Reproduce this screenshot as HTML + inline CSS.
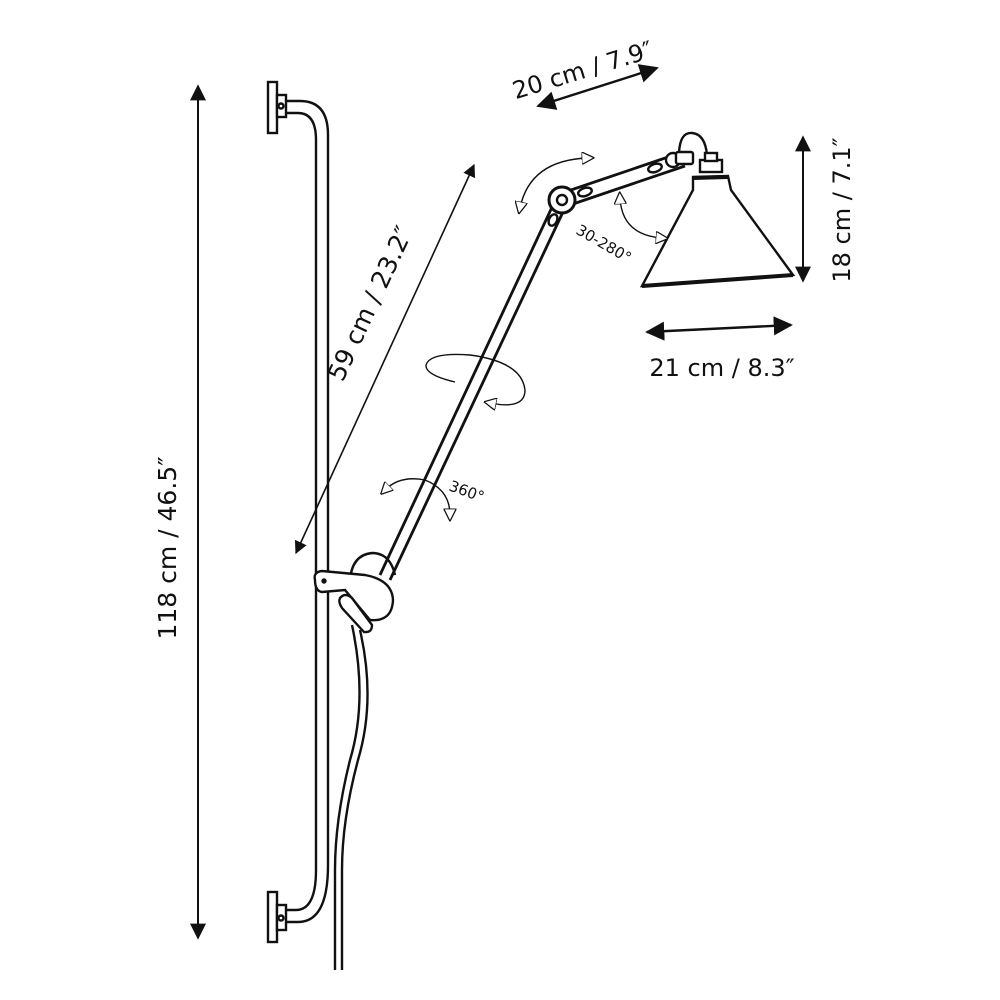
<!DOCTYPE html>
<html><head><meta charset="utf-8"><style>
html,body{margin:0;padding:0;background:#fff;}
svg{display:block;}
text{font-family:"DejaVu Sans","Liberation Sans",sans-serif;fill:#111;}
</style></head><body>
<svg width="1000" height="1000" viewBox="0 0 1000 1000" xmlns="http://www.w3.org/2000/svg">
<defs>
<marker id="a" viewBox="0 0 10 10" refX="9" refY="5" markerWidth="8" markerHeight="8" orient="auto-start-reverse"><path d="M0,0 L10,5 L0,10 z" fill="#111"/></marker>
<marker id="o" viewBox="0 0 10 10" refX="5" refY="5" markerWidth="9" markerHeight="9" orient="auto-start-reverse"><path d="M0,0 L10,5 L0,10 z" fill="#fff" stroke="#111" stroke-width="1"/></marker>
</defs>
<g fill="none" stroke="#111" stroke-width="2.4">
<rect x="268" y="82" width="9" height="51" fill="#fff"/>
<rect x="277" y="95" width="9" height="22" fill="#fff"/>
<circle cx="281" cy="106" r="2.5"/>
<path d="M286,101 L300,101 Q328,101 328,135 L328,865"/>
<path d="M286,113 L298,113 Q316,113 316,140 L316,870"/>
<rect x="268" y="892" width="9" height="50" fill="#fff"/>
<rect x="277" y="905" width="9" height="25" fill="#fff"/>
<circle cx="281" cy="918" r="2.5"/>
<path d="M328,865 Q328,922 298,922 L286,922"/>
<path d="M316,870 Q316,910 296,910 L286,910"/>
<path d="M352,625 Q368,700 350,760 Q335,820 335,870 L335,970"/>
<path d="M360,630 Q376,700 358,760 Q342,820 342,870 L342,970"/>
<path d="M380,575 L553,205" stroke-width="2.8"/>
<path d="M390,580 L563,212" stroke-width="2.8"/>
<path d="M565,192 L680,153" stroke-width="2.8"/>
<path d="M570,205 L685,166" stroke-width="2.8"/>
<path d="M350,580 Q352,555 372,553 Q390,553 395,575" />
<path d="M315,580 Q313,572 322,571 L365,575 Q392,580 393,600 Q392,622 370,620 L345,590 L322,592 Q315,591 315,580 z" fill="#fff"/>
<circle cx="324" cy="581" r="1.5" fill="#111"/>
<path d="M340,598 Q345,592 352,598 L372,625 Q372,633 364,632 L342,608 Q338,602 340,598 z" fill="#fff"/>
<circle cx="562" cy="200" r="13" fill="#fff" stroke-width="3"/>
<circle cx="562" cy="200" r="5"/>
<ellipse cx="553" cy="220" rx="4" ry="6" transform="rotate(25 553 220)"/>
<ellipse cx="585" cy="192" rx="7" ry="4" transform="rotate(-18 585 192)"/>
<ellipse cx="655" cy="168" rx="7" ry="4" transform="rotate(-18 655 168)"/>
<circle cx="673" cy="160" r="7" fill="#fff"/>
<rect x="676" y="152" width="17" height="12" rx="2" fill="#fff"/>
<path d="M679,153 Q680,132 692,133 Q705,134 707,155"/>
<rect x="700" y="160" width="22" height="12" fill="#fff"/>
<rect x="705" y="153" width="12" height="8" fill="#fff"/>
<path d="M693,177 L728,176 L731,190 L793,275 L642,286 L693,190 z" fill="#fff"/>
<path d="M642,286 L793,275" stroke-width="4"/>
<path d="M693,178 L728,177" stroke-width="4"/>
</g>
<g stroke="#111" stroke-width="2" fill="none">
<line x1="198" y1="86" x2="198" y2="938" marker-start="url(#a)" marker-end="url(#a)"/>
<line x1="474" y1="165" x2="296" y2="553" stroke-width="1.6" marker-start="url(#a)" marker-end="url(#a)"/>
<line x1="538" y1="106" x2="657" y2="68" stroke-width="2.4" marker-start="url(#a)" marker-end="url(#a)"/>
<line x1="803" y1="137" x2="803" y2="281" marker-start="url(#a)" marker-end="url(#a)"/>
<line x1="647" y1="332" x2="791" y2="325" stroke-width="2.4" marker-start="url(#a)" marker-end="url(#a)"/>
</g>
<g stroke="#111" stroke-width="1.4" fill="none">
<path d="M520,208 Q530,160 588,158" marker-start="url(#o)" marker-end="url(#o)"/>
<path d="M620,198 Q622,235 662,238" marker-start="url(#o)" marker-end="url(#o)"/>
<path d="M455,382 Q425,375 426,365 Q430,352 470,355 Q522,362 525,390 Q525,410 490,403" marker-end="url(#o)"/>
<path d="M385,490 Q400,475 425,480 Q450,490 450,515" marker-start="url(#o)" marker-end="url(#o)"/>
</g>
<text font-size="25" transform="translate(176,548) rotate(-90)" text-anchor="middle">118 cm / 46.5″</text>
<text font-size="25" transform="translate(378,307) rotate(-65)" text-anchor="middle">59 cm / 23.2″</text>
<text font-size="24" transform="translate(585,78) rotate(-17)" text-anchor="middle">20 cm / 7.9″</text>
<text font-size="24" transform="translate(850,210) rotate(-90)" text-anchor="middle">18 cm / 7.1″</text>
<text font-size="24" x="722" y="376" text-anchor="middle">21 cm / 8.3″</text>
<text font-size="15" transform="translate(575,233) rotate(30)">30-280°</text>
<text font-size="15" transform="translate(448,490) rotate(20)">360°</text>
</svg>
</body></html>
